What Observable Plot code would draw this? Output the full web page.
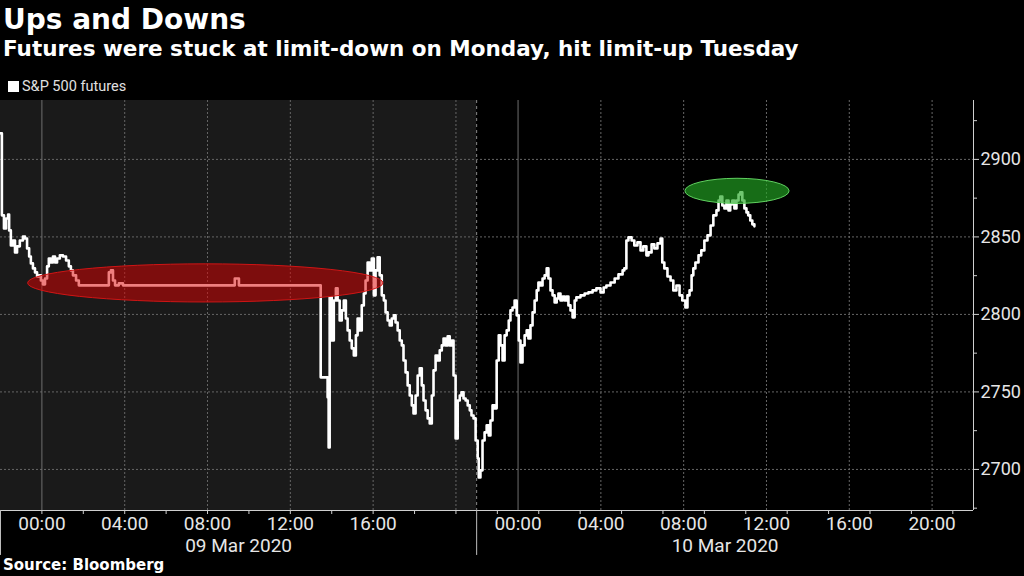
<!DOCTYPE html>
<html><head><meta charset="utf-8">
<script src="https://cdn.jsdelivr.net/npm/d3@7"></script>
<script src="https://cdn.jsdelivr.net/npm/@observablehq/plot@0.6"></script>
<style>
html,body{margin:0;padding:0;background:#000;width:1024px;height:576px;overflow:hidden;}
.t{position:absolute;white-space:nowrap;color:#fff;}
#title{left:3px;top:6px;font:bold 28px/28px "DejaVu Sans";}
#subtitle{left:3px;top:38px;font:bold 21.5px/21.5px "DejaVu Sans";}
#legend{left:8px;top:80px;font:14.5px/14.5px Roboto;color:#e0e0e0;}
#legend .sw{display:inline-block;width:11px;height:11px;background:#fff;margin-right:3px;vertical-align:-1px;}
#source{left:3px;top:558px;font:bold 15px/15px "DejaVu Sans";}
#chart{position:absolute;left:0;top:100px;}
</style></head><body>
<div id="title" class="t">Ups and Downs</div>
<div id="subtitle" class="t">Futures were stuck at limit-down on Monday, hit limit-up Tuesday</div>
<div id="legend" class="t"><span class="sw"></span>S&amp;P 500 futures</div>
<div id="chart"></div>
<div id="source" class="t">Source: Bloomberg</div>
<script>
// Time axis: trading minutes since the 22:00 UTC 8 Mar open (the 21:00-22:00 halt is removed)
const sessionLength = 1380; // minutes per session (22:00 -> 21:00)
const sessionLabels = ["09 Mar 2020", "10 Mar 2020"];

// S&P 500 futures, session of 9 Mar
const minutes1 = [0,4,10,16,22,25,30,36,42,48,56,65,71,77,83,88,94,100,106,112,117,123,129,135,140,146,152,158,164,172,181,190,198,204,210,219,227,311,314,320,326,332,343,355,676,679,688,691,922,928,948,951,954,960,966,972,977,983,989,995,1001,1006,1012,1018,1024,1030,1035,1041,1047,1053,1058,1064,1070,1076,1082,1087,1093,1099,1105,1111,1116,1122,1128,1134,1140,1145,1151,1157,1163,1168,1174,1180,1186,1192,1197,1203,1209,1215,1221,1226,1232,1238,1244,1250,1255,1261,1267,1273,1279,1284,1290,1296,1302,1308,1313,1319,1325,1331,1336,1342,1348,1354,1360,1365,1371,1377];
const values1 = [2916.8,2863.9,2855.5,2861.9,2864.5,2854.2,2844.5,2847.7,2840.0,2843.9,2847.7,2850.3,2849.0,2842.6,2837.4,2832.9,2829.7,2827.1,2824.5,2825.2,2821.9,2819.4,2823.2,2831.0,2836.1,2833.5,2837.4,2833.5,2836.1,2838.1,2837.4,2834.8,2831.0,2828.4,2825.2,2821.9,2818.75,2818.75,2827.1,2828.4,2821.9,2818.75,2820.0,2818.75,2818.75,2823.2,2823.2,2818.75,2818.75,2759.4,2746.5,2714.2,2811.0,2783.2,2809.0,2816.8,2809.0,2796.1,2802.6,2809.0,2797.4,2789.7,2783.2,2778.1,2773.5,2786.5,2797.4,2789.7,2805.8,2813.5,2821.9,2833.5,2828.4,2836.1,2812.3,2828.4,2836.8,2825.2,2812.3,2809.0,2801.3,2796.1,2792.9,2797.4,2799.4,2794.8,2789.7,2783.2,2780.0,2770.3,2762.6,2754.2,2747.7,2741.3,2736.1,2747.7,2760.6,2765.2,2754.2,2744.5,2738.1,2732.9,2729.7,2747.7,2763.9,2773.5,2770.3,2776.8,2780.0,2784.5,2780.0,2785.8,2780.0,2783.2,2760.6,2720.0,2744.5,2747.7,2749.7,2745.8,2744.5,2741.3,2738.1,2734.8,2732.9,2718.7];
// session of 10 Mar
const minutes2 = [1383,1386,1391,1397,1403,1409,1415,1420,1426,1432,1438,1444,1449,1455,1461,1467,1473,1478,1484,1490,1496,1502,1507,1513,1519,1525,1530,1536,1542,1548,1554,1559,1565,1571,1577,1583,1588,1594,1600,1606,1612,1617,1623,1629,1635,1640,1646,1652,1658,1664,1669,1681,1693,1704,1716,1727,1739,1748,1756,1768,1780,1791,1803,1808,1814,1820,1829,1837,1846,1855,1863,1872,1878,1887,1895,1904,1913,1918,1924,1933,1942,1950,1959,1968,1976,1985,1991,1997,2003,2008,2014,2023,2031,2040,2049,2058,2066,2075,2081,2086,2092,2098,2104,2110,2115,2121,2127,2133,2139,2144,2150,2156,2162,2167,2173,2179,2185];
const values2 = [2707.1,2694.8,2699.4,2718.7,2723.9,2728.4,2721.9,2731.6,2741.3,2739.4,2770.3,2786.5,2780.0,2770.3,2786.5,2789.7,2796.1,2802.6,2804.5,2809.0,2799.4,2783.2,2769.0,2780.0,2786.5,2789.7,2784.5,2792.9,2801.3,2809.0,2815.5,2820.6,2818.7,2823.2,2825.2,2829.7,2823.2,2815.5,2812.3,2807.7,2810.3,2813.5,2809.0,2811.6,2809.0,2811.6,2805.8,2802.6,2798.1,2809.0,2811.0,2812.3,2813.5,2814.2,2815.5,2816.8,2814.2,2817.4,2818.7,2820.6,2823.2,2825.8,2828.4,2829.7,2847.7,2849.7,2847.7,2844.5,2846.5,2841.3,2843.9,2838.1,2840.0,2845.2,2842.6,2845.8,2849.0,2833.5,2829.7,2824.5,2821.9,2815.5,2818.7,2812.3,2809.0,2804.5,2812.3,2815.5,2825.2,2829.7,2833.5,2838.1,2841.3,2847.7,2851.0,2857.4,2863.9,2867.1,2873.5,2876.1,2870.3,2868.4,2873.5,2867.1,2871.0,2873.5,2868.4,2873.5,2877.4,2878.7,2873.5,2868.4,2865.8,2863.9,2860.6,2858.1,2856.8];

// highlight ellipses (limit-down band Monday, limit-up Tuesday)
const hlCenterMin = [595, 2136];
const hlCenterVal = [2820.0, 2879.4];
const hlHalfMin = [515, 151];
const hlHalfVal = [12.3, 8.1];

// axes
const xTickLabels = ["00:00","04:00","08:00","12:00","16:00","20:00","00:00","04:00","08:00","12:00","16:00","20:00"];
const xTickSession = [0,0,0,0,0,0,1,1,1,1,1,1];
const xLabelShown = [true,true,true,true,true,false,true,true,true,true,true,true];
const yTicks = [2700, 2750, 2800, 2850, 2900];
const yMinorTicks = [2675, 2725, 2775, 2825, 2875, 2925];
const xDomain = [0, 2820];
const yDomain = [2673.5, 2938];

const clockToMin = (session, hhmm) => {
  const [h, m] = hhmm.split(":").map(Number);
  return session * sessionLength + 120 + h * 60 + m;
};

const series = [];
minutes1.forEach((m, i) => series.push({m, v: values1[i]}));
minutes2.forEach((m, i) => series.push({m, v: values2[i]}));

const tickPos = xTickLabels.map((l, i) => clockToMin(xTickSession[i], l));
const labelMap = new Map();
tickPos.forEach((p, i) => { if (xLabelShown[i]) labelMap.set(p, xTickLabels[i]); });
const midnight = tickPos.filter((p, i) => xTickLabels[i] === "00:00");
const dashed = tickPos.filter((p, i) => xTickLabels[i] !== "00:00");
const twoHour = d3.range(120, xDomain[1] + 1, 120);
const sessions = sessionLabels.map((label, i) => ({label, start: i * sessionLength, end: (i + 1) * sessionLength, mid: (i + 0.5) * sessionLength + (i === 1 ? 30 : 0)}));
const sessionMidMap = new Map(sessions.map(s => [s.mid, s.label]));
const highlights = hlCenterMin.map((c, i) => ({c, v: hlCenterVal[i], hm: hlHalfMin[i], hv: hlHalfVal[i]}));
const hlStyle = [
  {fill: "#e00000", fillOpacity: 0.5, stroke: "#d01515"},
  {fill: "#24a824", fillOpacity: 0.65, stroke: "#60d060"}
];

const ellipseMark = (index, scales) => {
  const g = d3.create("svg:g");
  highlights.forEach((h, i) => {
    const cx = scales.x(h.c), cy = scales.y(h.v);
    g.append("ellipse")
      .attr("cx", cx).attr("cy", cy)
      .attr("rx", Math.abs(scales.x(h.c + h.hm) - cx))
      .attr("ry", Math.abs(scales.y(h.v + h.hv) - cy))
      .attr("fill", hlStyle[i].fill)
      .attr("fill-opacity", hlStyle[i].fillOpacity)
      .attr("stroke", hlStyle[i].stroke)
      .attr("stroke-width", 1);
  });
  return g.node();
};

const plot = Plot.plot({
  width: 1024, height: 460,
  marginLeft: 0, marginRight: 51, marginTop: 0, marginBottom: 50,
  style: {background: "transparent", color: "#e6e6e6", fontFamily: "Roboto", overflow: "visible"},
  x: {domain: xDomain, axis: null, label: null},
  y: {domain: yDomain, axis: null, label: null},
  marks: [
    Plot.rect([sessions[0]], {x1: "start", x2: "end", y1: yDomain[0], y2: yDomain[1], fill: "#1a1a1a"}),
    Plot.ruleY(yTicks, {stroke: "#666", strokeDasharray: "2,2"}),
    Plot.ruleX(dashed, {stroke: "#666", strokeDasharray: "2,2"}),
    Plot.ruleX(midnight, {stroke: "#6e6e6e"}),
    Plot.ruleX([sessionLength], {stroke: "#8a8a8a", strokeDasharray: "3,3"}),
    Plot.line(series, {x: "m", y: "v", stroke: "#ffffff", strokeWidth: 2.6, curve: "step-after"}),
    ellipseMark,
    Plot.ruleY([yDomain[0]], {stroke: "#cfcfcf"}),
    Plot.ruleX([xDomain[1]], {stroke: "#cfcfcf"}),
    Plot.ruleX([0, sessionLength], {y1: yDomain[0], y2: 2644.5, stroke: "#bdbdbd"}),
    Plot.axisY({ticks: yTicks, anchor: "right", label: null, tickSize: 5, tickPadding: 2, fontSize: 18, tickFormat: d => String(d), stroke: "#cfcfcf", fill: "#e6e6e6"}),
    Plot.axisY({ticks: yMinorTicks, anchor: "right", label: null, tickSize: 3, tickFormat: () => "", stroke: "#cfcfcf"}),
    Plot.axisX({ticks: twoHour, anchor: "bottom", label: null, tickSize: 4, tickFormat: () => "", stroke: "#cfcfcf"}),
    Plot.axisX({ticks: [...labelMap.keys()], anchor: "bottom", label: null, tickSize: 0, tickPadding: 6, fontSize: 19, tickFormat: d => labelMap.get(d), fill: "#e6e6e6"}),
    Plot.axisX({ticks: [...sessionMidMap.keys()], anchor: "bottom", label: null, tickSize: 0, tickPadding: 28, fontSize: 19, tickFormat: d => sessionMidMap.get(d), fill: "#e6e6e6"})
  ]
});
document.getElementById("chart").appendChild(plot);
</script>
</body></html>
